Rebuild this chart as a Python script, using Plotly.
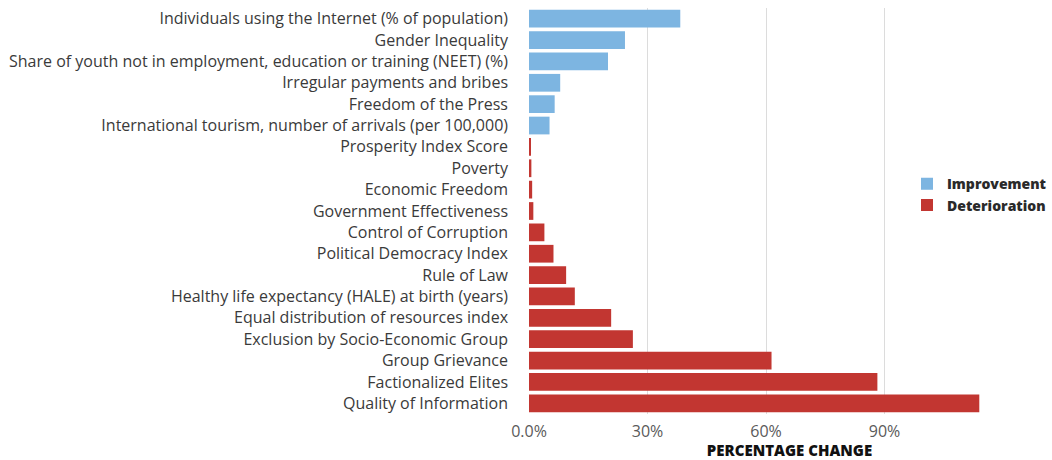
import plotly.graph_objects as go

# Indicators, listed top to bottom
indicators = [
    "Individuals using the Internet (% of population)",
    "Gender Inequality",
    "Share of youth not in employment, education or training (NEET) (%)",
    "Irregular payments and bribes",
    "Freedom of the Press",
    "International tourism, number of arrivals (per 100,000)",
    "Prosperity Index Score",
    "Poverty",
    "Economic Freedom",
    "Government Effectiveness",
    "Control of Corruption",
    "Political Democracy Index",
    "Rule of Law",
    "Healthy life expectancy (HALE) at birth (years)",
    "Equal distribution of resources index",
    "Exclusion by Socio-Economic Group",
    "Group Grievance",
    "Factionalized Elites",
    "Quality of Information",
]

# Percentage change per indicator
pct_change = [38.3, 24.3, 20.0, 7.9, 6.5, 5.2, 0.4, 0.6, 0.8, 1.1,
              3.9, 6.2, 9.4, 11.6, 20.8, 26.3, 61.4, 88.2, 114.0]

# Direction of change per indicator
direction = ["Improvement"] * 6 + ["Deterioration"] * 13

tick_vals = [0, 30, 60, 90]
tick_text = ["0.0%", "30%", "60%", "90%"]

colors = {"Improvement": "#7db5e1", "Deterioration": "#c23631"}

fig = go.Figure()
for name in ["Improvement", "Deterioration"]:
    fig.add_trace(go.Bar(
        y=indicators,
        x=[v if d == name else None for v, d in zip(pct_change, direction)],
        orientation="h",
        name=name,
        marker=dict(color=colors[name], line=dict(width=0)),
        width=0.83,
    ))

fig.update_layout(
    width=1052, height=460,
    margin=dict(l=529, r=0, t=8, b=46),
    paper_bgcolor="white", plot_bgcolor="white",
    barmode="overlay",
    font=dict(family="Open Sans, sans-serif", color="#3a3a3a"),
    legend=dict(
        x=1.004, xanchor="right", y=0.54, yanchor="middle",
        font=dict(size=14, color="#2a2a2a", weight=800),
        itemwidth=30, tracegroupgap=0, bgcolor="rgba(0,0,0,0)",
    ),
    xaxis=dict(
        range=[0, 131.9],
        tickvals=tick_vals, ticktext=tick_text,
        tickfont=dict(size=16, color="#5a5a5a"),
        ticklabelstandoff=6,
        showgrid=True, gridcolor="#dcdcdc", gridwidth=1,
        zeroline=False, showline=False,
        title=dict(text="PERCENTAGE CHANGE",
                   font=dict(size=15, color="#111111", weight=900),
                   standoff=3),
    ),
    yaxis=dict(
        autorange="reversed",
        tickfont=dict(size=16, color="#3a3a3a"),
        showgrid=False, zeroline=False, showline=False,
        ticklabelstandoff=20,
    ),
)

fig.write_html("out.html")
